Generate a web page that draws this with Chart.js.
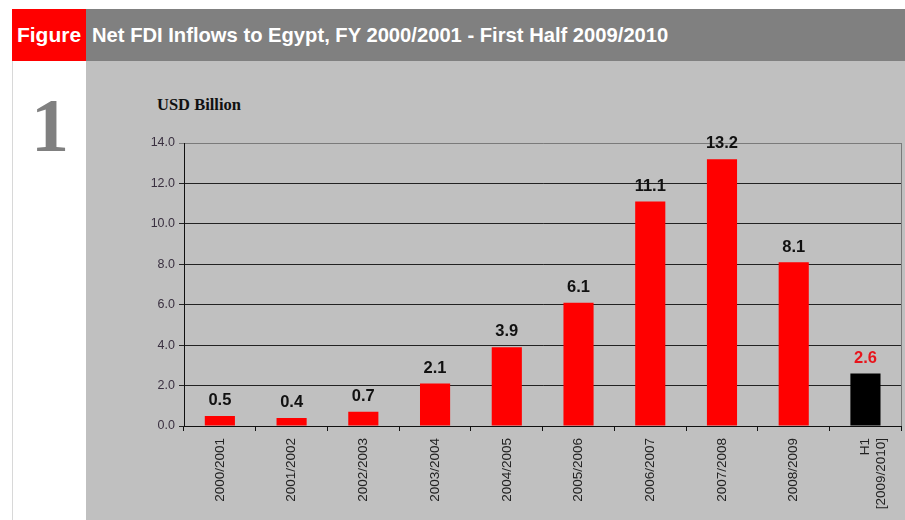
<!DOCTYPE html>
<html>
<head>
<meta charset="utf-8">
<script src="https://cdn.jsdelivr.net/npm/chart.js@4/dist/chart.umd.min.js"></script>
<style>
    body { margin: 0; background: #fff; width: 905px; height: 520px; overflow: hidden; position: relative; font-family: Arial, "Liberation Sans", sans-serif; }
    #header { position: absolute; left: 12px; top: 9px; width: 893px; height: 52px; background: #808080; }
    #fig-tag { position: absolute; left: 0; top: 0; width: 74px; height: 52px; background: #ff0000; color: #fff; font-weight: bold; font-size: 21px; line-height: 52px; text-align: center; }
    #fig-title { position: absolute; left: 80px; top: 0; color: #fff; font-weight: bold; font-size: 20.2px; line-height: 52px; white-space: nowrap; }
    #side { position: absolute; left: 12px; top: 61px; width: 73px; height: 459px; border-left: 1px solid #d8d8d8; background: #fff; }
    #fig-num { position: absolute; left: 0; top: 26px; width: 74px; text-align: center; font-family: "Liberation Serif", "Times New Roman", serif; font-weight: bold; font-size: 76px; color: #808080; line-height: 1; }
    #panel { position: absolute; left: 86px; top: 61px; width: 819px; height: 459px; background: #c0c0c0; }
    #unit { position: absolute; left: 71px; top: 34px; font-family: "Liberation Serif", "Times New Roman", serif; font-weight: bold; font-size: 16.5px; color: #111; }
    #chart-box { position: absolute; left: 0; top: 1px; width: 819px; height: 458px; }
</style>
</head>
<body>
<div id="header">
    <div id="fig-tag">Figure</div>
    <div id="fig-title">Net FDI Inflows to Egypt, FY 2000/2001 - First Half 2009/2010</div>
</div>
<div id="side"><div id="fig-num">1</div></div>
<div id="panel">
    <div id="unit">USD Billion</div>
    <div id="chart-box"><canvas id="fdi-chart"></canvas></div>
</div>
<script>
"use strict"

const fiscalYears = ['2000/2001', '2001/2002', '2002/2003', '2003/2004', '2004/2005',
    '2005/2006', '2006/2007', '2007/2008', '2008/2009', ['H1', '[2009/2010]']];
const fdiInflows = [0.5, 0.4, 0.7, 2.1, 3.9, 6.1, 11.1, 13.2, 8.1, 2.6];
const barColors = ['#ff0000', '#ff0000', '#ff0000', '#ff0000', '#ff0000',
    '#ff0000', '#ff0000', '#ff0000', '#ff0000', '#000000'];
const valueColors = ['#111', '#111', '#111', '#111', '#111',
    '#111', '#111', '#111', '#111', '#e8141c'];
const yTicks = [0, 2, 4, 6, 8, 10, 12, 14];

// value labels above each bar + the grey right border of the plot
const valueLabels = {
    id: 'valueLabels',
    afterDatasetsDraw(chart) {
        const ctx = chart.ctx;
        const area = chart.chartArea;
        ctx.save();
        ctx.strokeStyle = '#7a7a7a';
        ctx.lineWidth = 1;
        ctx.beginPath();
        ctx.moveTo(Math.round(area.right) + 0.5, area.top);
        ctx.lineTo(Math.round(area.right) + 0.5, area.bottom);
        ctx.stroke();

        ctx.font = 'bold 16.5px Arial, "Liberation Sans", sans-serif';
        ctx.textAlign = 'center';
        ctx.textBaseline = 'bottom';
        chart.getDatasetMeta(0).data.forEach((bar, i) => {
            ctx.fillStyle = valueColors[i];
            ctx.fillText(fdiInflows[i].toFixed(1), bar.x, bar.y - 7);
        });
        ctx.restore();
    }
};

function initChart() {
    const ctx = document.getElementById('fdi-chart');

    new Chart(ctx, {
        type: 'bar',
        data: {
            labels: fiscalYears,
            datasets: [{
                data: fdiInflows,
                backgroundColor: barColors,
                borderWidth: 0,
                categoryPercentage: 1,
                barPercentage: 0.42
            }]
        },
        options: {
            responsive: true,
            maintainAspectRatio: false,
            animation: false,
            layout: { padding: { left: 0, top: 81, right: 3, bottom: 0 } },
            plugins: {
                legend: { display: false },
                tooltip: { enabled: false }
            },
            scales: {
                x: {
                    afterFit: scale => { scale.height = 94; },
                    border: { color: '#111', width: 1 },
                    grid: {
                        offset: true,
                        drawOnChartArea: false,
                        drawTicks: true,
                        tickLength: 5,
                        color: '#111'
                    },
                    ticks: {
                        minRotation: 90,
                        maxRotation: 90,
                        autoSkip: false,
                        padding: 7,
                        color: '#222',
                        font: { family: 'Arial, "Liberation Sans", sans-serif', size: 13.5 }
                    }
                },
                y: {
                    min: 0,
                    max: 14,
                    afterFit: scale => { scale.width = 98; },
                    afterBuildTicks: scale => { scale.ticks = yTicks.map(v => ({ value: v })); },
                    border: { color: '#111', width: 1 },
                    grid: {
                        color: c => (c.tick && c.tick.value === 14) ? '#7a7a7a' : '#222',
                        tickLength: 5,
                        drawTicks: true
                    },
                    ticks: {
                        padding: 4,
                        color: '#3a3040',
                        font: { family: 'Arial, "Liberation Sans", sans-serif', size: 12.5 },
                        callback: v => Number(v).toFixed(1)
                    }
                }
            }
        },
        plugins: [valueLabels]
    });
}

initChart();
</script>
</body>
</html>
